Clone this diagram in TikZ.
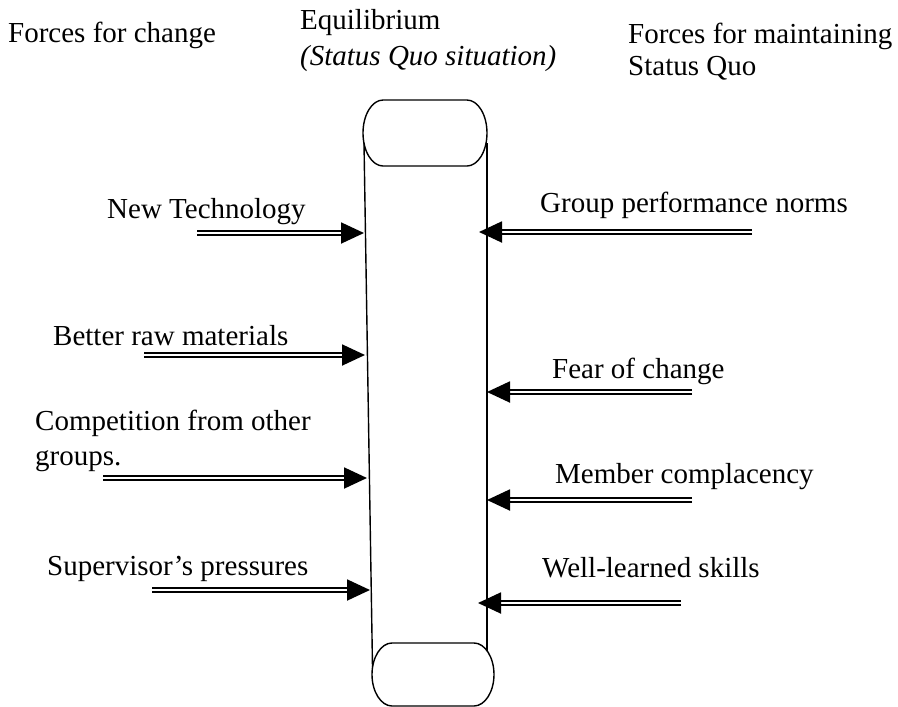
\documentclass[tikz,border=0pt]{standalone}
\usepackage{fontspec}
\setmainfont{Liberation Serif}
\usetikzlibrary{arrows.meta}
\begin{document}
\begin{tikzpicture}[x=1pt,y=-1pt,
  lbl/.style={anchor=base west, inner sep=0pt, font=\fontsize{29}{34}\selectfont},
  cyl/.style={draw=black, line width=1.4pt},
  force/.style={draw=black, double=white, line width=1.9pt, double distance=1.8pt,
    -{Triangle[length=23pt,width=21pt]}}]
\useasboundingbox (0,0) rectangle (898,707);

% titles
\node[lbl] (fc) at (8,42) {Forces for change};
\node[lbl] (eq1) at (300,29) {Equilibrium};
\node[lbl] (eq2) at (300,65) {\itshape (Status Quo situation)};
\node[lbl] (fm1) at (628,43) {Forces for maintaining};
\node[lbl] (fm2) at (628,75) {Status Quo};

% cylinder
\draw[cyl] (383,100) -- (467,100) .. controls (478,100) and (487,114.8) .. (487,133)
  .. controls (487,151.2) and (478,166) .. (467,166) -- (383,166)
  .. controls (372,166) and (363,151.2) .. (363,133)
  .. controls (363,114.8) and (372,100) .. (383,100) -- cycle;
\draw[cyl] (392,643) -- (474,643) .. controls (485,643) and (494,657.3) .. (494,674.5)
  .. controls (494,691.7) and (485,706) .. (474,706) -- (392,706)
  .. controls (381,706) and (372,691.7) .. (372,674.5)
  .. controls (372,657.3) and (381,643) .. (392,643) -- cycle;
\coordinate (lt) at (364,143);
\coordinate (lb) at (372.5,667);
\coordinate (rt) at (487,143);
\coordinate (rb) at (487,651);
\draw[cyl] (lt) -- (lb);
\draw[cyl] (rt) -- (rb);

% forces for change
\node[lbl] (t1) at (107,218) {New Technology};
\node[lbl] (t2) at (53,345) {Better raw materials};
\node[lbl] (t3a) at (35,430) {Competition from other};
\node[lbl] (t3b) at (35,465) {groups.};
\node[lbl] (t4) at (47,575) {Supervisor’s pressures};
\coordinate (a1) at (197,233); \coordinate (b1) at (364,233);
\coordinate (a2) at (144,355); \coordinate (b2) at (365,355);
\coordinate (a3) at (103,478); \coordinate (b3) at (367,478);
\coordinate (a4) at (152,590); \coordinate (b4) at (370,590);
\draw[force] (a1) -- (b1);
\draw[force] (a2) -- (b2);
\draw[force] (a3) -- (b3);
\draw[force] (a4) -- (b4);

% forces for maintaining status quo
\node[lbl] (s1) at (540,212) {Group performance norms};
\node[lbl] (s2) at (552,378) {Fear of change};
\node[lbl] (s3) at (555,483) {Member complacency};
\node[lbl] (s4) at (542,577) {Well-learned skills};
\coordinate (c1) at (752,232); \coordinate (d1) at (479,232);
\coordinate (c2) at (692,392); \coordinate (d2) at (487,392);
\coordinate (c3) at (692,500); \coordinate (d3) at (487,500);
\coordinate (c4) at (681,603); \coordinate (d4) at (478,603);
\draw[force] (c1) -- (d1);
\draw[force] (c2) -- (d2);
\draw[force] (c3) -- (d3);
\draw[force] (c4) -- (d4);
\end{tikzpicture}
\end{document}
